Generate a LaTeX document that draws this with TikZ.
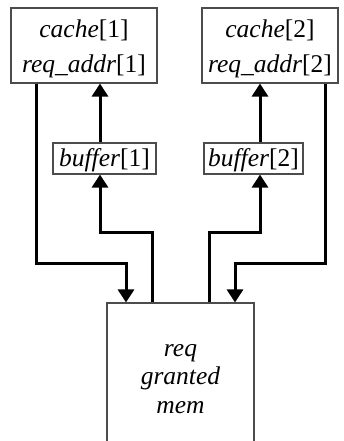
\documentclass[tikz,border=0pt]{standalone}
\usepackage{fontspec}
\setmainfont{Liberation Serif}
\usetikzlibrary{arrows.meta}
% invisible strut that lowers the text block inside its box
\newcommand\topgap[1]{\rule{0pt}{#1}}
\tikzset{
  box/.style={draw=black!70, line width=1.1pt, fill=white, align=center, inner sep=0pt},
  bigtext/.style={font=\fontsize{25.5}{35}\selectfont},
  memtext/.style={font=\fontsize{25.5}{28.5}\selectfont},
  wire/.style={line width=3pt, -{Triangle[length=13pt,width=16pt]}}
}
\begin{document}
\begin{tikzpicture}[x=1pt,y=-1pt]
\useasboundingbox (0,0) rectangle (343,441);
\clip (0,0) rectangle (343,441);
% upper boxes
\node[box,bigtext,minimum width=146pt,minimum height=75pt] (cache1) at (84,45.5)
  {\topgap{24pt}\textit{cache}[1]\\\textit{req\_addr}[1]};
\node[box,bigtext,minimum width=136pt,minimum height=75pt] (cache2) at (270,45.5)
  {\topgap{24pt}\textit{cache}[2]\\\textit{req\_addr}[2]};
% buffers
\node[box,bigtext,minimum width=103pt,minimum height=31pt] (buf1) at (104.5,158.5)
  {\topgap{22pt}\textit{buffer}[1]};
\node[box,bigtext,minimum width=99pt,minimum height=31pt] (buf2) at (253.5,158.5)
  {\topgap{22pt}\textit{buffer}[2]};
% lower box, running off the bottom edge
\node[box,memtext,minimum width=147pt,minimum height=146pt] (mem) at (180.5,376)
  {\topgap{18pt}\textit{req}\\\textit{granted}\\\textit{mem}};
% left side
\draw[wire] (cache1.south -| 36,0) |- (126,263) -- (mem.north -| 126,0);
\draw[wire] (mem.north -| 152,0) |- (100,232) -- (buf1.south -| 100,0);
\draw[wire] (buf1.north -| 100,0) -- (cache1.south -| 100,0);
% right side
\draw[wire] (cache2.south -| 325,0) |- (235,263) -- (mem.north -| 235,0);
\draw[wire] (mem.north -| 209,0) |- (260,232) -- (buf2.south -| 260,0);
\draw[wire] (buf2.north -| 260,0) -- (cache2.south -| 260,0);
\end{tikzpicture}
\end{document}
